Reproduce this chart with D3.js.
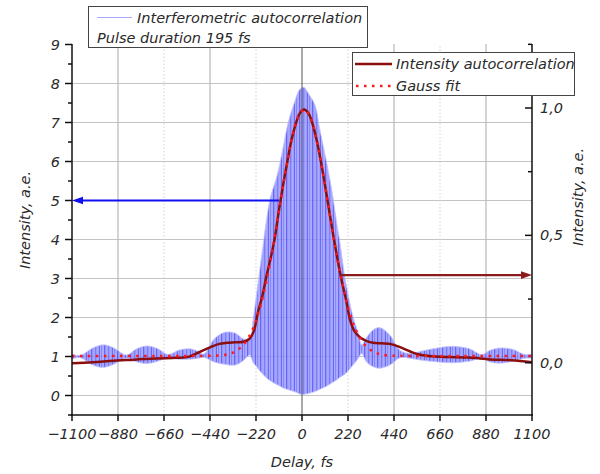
<!DOCTYPE html>
<html><head><meta charset="utf-8">
<script src="https://cdn.jsdelivr.net/npm/d3@7/dist/d3.min.js"></script>
<style>
html,body{margin:0;padding:0;background:#fff;}
text{font-family:"DejaVu Sans",sans-serif;font-style:italic;fill:#2a2a2a;}
</style></head>
<body>
<svg id="chart" width="600" height="474"></svg>
<script>
// ---------- data ----------
const xTicks = [-1100,-880,-660,-440,-220,0,220,440,660,880,1100];
const xGridMajor = [-880,-440,440,880];
const xGridMinor = [-660,-220,220,660];
const yLeftTicks = [0,1,2,3,4,5,6,7,8,9];
const yRightTicks = [0,0.5,1.0];
const yRightLabels = ["0,0","0,5","1,0"];
const yRightMinor = [0.25,0.75,1.25];

// interferometric autocorrelation envelope (left axis)
const iacDelay = [-1100,-1060,-1000,-950,-900,-840,-790,-740,-690,-640,-590,-540,-500,-470,-420,-370,-320,-280,-250,-234,-217,-200,-185,-170,-150,-121,-105,-89,-66,-37,-10,10,30,62,86,118,142,166,182,206,245,269,285,310,340,373,420,470,520,580,650,720,800,860,900,950,1010,1060,1100];
const iacUpper = [1.06,1.03,1.22,1.30,1.22,1.04,1.20,1.27,1.20,1.05,1.16,1.20,1.14,1.06,1.45,1.62,1.60,1.45,1.45,1.94,2.60,3.30,3.90,4.50,5.10,5.60,5.97,6.39,7.00,7.50,7.85,7.90,7.75,7.45,6.80,5.97,5.28,4.43,3.90,3.00,2.00,1.60,1.30,1.50,1.68,1.74,1.55,1.15,1.08,1.15,1.22,1.26,1.20,1.05,1.16,1.22,1.18,1.06,1.05];
const iacLower = [0.94,0.97,0.78,0.72,0.80,0.96,0.86,0.82,0.88,0.96,0.93,0.93,0.95,0.98,0.86,0.80,0.78,0.90,1.04,0.85,0.74,0.62,0.53,0.45,0.37,0.28,0.24,0.19,0.15,0.10,0.04,0.03,0.05,0.10,0.16,0.24,0.32,0.40,0.47,0.55,0.79,0.95,1.08,0.85,0.74,0.70,0.78,0.97,0.95,0.90,0.86,0.84,0.88,0.95,0.86,0.83,0.88,0.95,0.96];

// intensity autocorrelation (right axis)
const acDelay = [-1100,-1000,-900,-800,-700,-600,-540,-490,-440,-400,-360,-320,-280,-250,-230,-210,-190,-170,-150,-130,-110,-90,-70,-50,-30,-10,10,30,50,70,90,110,130,150,170,190,210,230,250,280,310,340,380,430,480,520,560,620,700,800,900,1000,1100];
const acValue = [-0.002,0.002,0.008,0.012,0.017,0.019,0.024,0.042,0.060,0.073,0.078,0.080,0.082,0.095,0.125,0.20,0.26,0.34,0.41,0.49,0.60,0.70,0.79,0.875,0.937,0.98,0.994,0.98,0.939,0.874,0.792,0.697,0.597,0.498,0.405,0.321,0.25,0.168,0.125,0.098,0.085,0.078,0.076,0.072,0.057,0.043,0.032,0.025,0.022,0.020,0.013,0.010,0.002];

// Gauss fit (right axis)
const gaussDelay = [-1100,-700,-450,-390,-350,-320,-290,-260,-230,-200,-170,-140,-110,-80,-50,-20,10,40,70,100,130,160,190,220,250,280,310,340,370,410,470,700,1100];
const gaussValue = [0.026,0.026,0.027,0.029,0.034,0.044,0.062,0.093,0.143,0.218,0.321,0.450,0.597,0.745,0.874,0.963,0.994,0.963,0.874,0.745,0.597,0.450,0.321,0.218,0.143,0.093,0.062,0.044,0.034,0.029,0.027,0.026,0.026];

// arrows: [fromDelay, toDelay, value]
const arrowLeft = [-110,-1100,5];      // left axis value
const arrowRight = [182,1100,0.344];   // right axis value

// ---------- drawing ----------
const svg = d3.select("#chart");
const x = d3.scaleLinear().domain([-1100,1100]).range([72,532]);
const yL = d3.scaleLinear().domain([-0.5,9]).range([415,44.5]);
const yR = d3.scaleLinear().domain([-0.2053,1.2513]).range([415,44]);

// fringe texture (style only)
const defs = svg.append("defs");
const pat = defs.append("pattern").attr("id","fringe").attr("patternUnits","userSpaceOnUse")
  .attr("width",13).attr("height",10);
pat.append("rect").attr("x",0).attr("y",0).attr("width",13).attr("height",10).attr("fill","#a4a4ff");
[[0,1.4,"#4646f6"],[2.6,0.8,"#7474fc"],[4.2,1.2,"#5252f8"],[6.6,0.7,"#8686fe"],[7.8,1.3,"#4a4af7"],[10.2,1,"#6262fa"],[11.8,0.6,"#8c8cff"]]
  .forEach(s=>pat.append("rect").attr("x",s[0]).attr("y",0).attr("width",s[1]).attr("height",10).attr("fill",s[2]));

// grid
const grid = svg.append("g");
grid.selectAll(".hg").data(yLeftTicks.filter(v=>v<9)).enter().append("line")
  .attr("x1",72).attr("x2",532).attr("y1",d=>yL(d)).attr("y2",d=>yL(d))
  .attr("stroke","#c4c4c4").attr("stroke-width",1.2);
grid.selectAll(".vg").data(xGridMajor).enter().append("line")
  .attr("x1",d=>x(d)).attr("x2",d=>x(d)).attr("y1",415).attr("y2",44)
  .attr("stroke","#b8b8b8").attr("stroke-width",1.2);
grid.selectAll(".vgm").data(xGridMinor).enter().append("line")
  .attr("x1",d=>x(d)).attr("x2",d=>x(d)).attr("y1",415).attr("y2",44)
  .attr("stroke","#d0d0d0").attr("stroke-width",1).attr("stroke-dasharray","1.5,2");

// IAC band
const iac = iacDelay.map((d,i)=>({d, u:iacUpper[i], l:iacLower[i]}));
const area = d3.area().x(p=>x(p.d)).y0(p=>yL(p.l)).y1(p=>yL(p.u)).curve(d3.curveCatmullRom.alpha(0.5));
svg.append("path").datum(iac).attr("d",area).attr("fill","url(#fringe)").attr("opacity",0.82)
  .attr("stroke","#b8b8ff").attr("stroke-width",0.8);

// zero line
svg.append("line").attr("x1",x(0)).attr("x2",x(0)).attr("y1",415).attr("y2",44)
  .attr("stroke","#555").attr("stroke-width",1);

// lines on right axis
const lineR = d3.line().x(p=>x(p.d)).y(p=>yR(p.v)).curve(d3.curveCatmullRom.alpha(0.5));
const ac = acDelay.map((d,i)=>({d, v:acValue[i]}));
const gauss = gaussDelay.map((d,i)=>({d, v:gaussValue[i]}));
svg.append("path").datum(ac).attr("d",lineR).attr("fill","none").attr("stroke","#8b0f0f").attr("stroke-width",2.5);
svg.append("path").datum(gauss).attr("d",lineR).attr("fill","none").attr("stroke","#ff1a1a")
  .attr("stroke-width",2.5).attr("stroke-dasharray","2.5,5.5");

// arrows
function arrow(x1,x2,y,color){
  const dir = Math.sign(x2-x1);
  svg.append("line").attr("x1",x1).attr("x2",x2-dir*8).attr("y1",y).attr("y2",y)
    .attr("stroke",color).attr("stroke-width",2.2);
  svg.append("path").attr("d",`M${x2},${y} L${x2-dir*11},${y-3.8} L${x2-dir*11},${y+3.8} Z`).attr("fill",color);
}
arrow(x(arrowLeft[0]),x(arrowLeft[1]),yL(arrowLeft[2]),"#1010f0");
arrow(x(arrowRight[0]),x(arrowRight[1]),yR(arrowRight[2]),"#8b1a1a");

// axes lines
const ax = svg.append("g").attr("stroke","#111").attr("stroke-width",1.5);
ax.append("line").attr("x1",72).attr("x2",72).attr("y1",44).attr("y2",415.5);
ax.append("line").attr("x1",532).attr("x2",532).attr("y1",44).attr("y2",415.5);
ax.append("line").attr("x1",71).attr("x2",533).attr("y1",415).attr("y2",415);

// left ticks
ax.selectAll(".lt").data(yLeftTicks).enter().append("line")
  .attr("x1",65).attr("x2",72).attr("y1",d=>yL(d)).attr("y2",d=>yL(d));
ax.selectAll(".ltm").data(d3.range(-0.5,9,1)).enter().append("line")
  .attr("x1",68).attr("x2",72).attr("y1",d=>yL(d)).attr("y2",d=>yL(d));
svg.selectAll(".ll").data(yLeftTicks).enter().append("text")
  .attr("x",60).attr("y",d=>yL(d)+5).attr("text-anchor","end").attr("font-size",14.5).text(d=>d);

// right ticks
ax.selectAll(".rt").data(yRightTicks).enter().append("line")
  .attr("x1",525).attr("x2",532).attr("y1",d=>yR(d)).attr("y2",d=>yR(d));
ax.selectAll(".rtm").data(yRightMinor).enter().append("line")
  .attr("x1",528).attr("x2",532).attr("y1",d=>yR(d)).attr("y2",d=>yR(d));
svg.selectAll(".rl").data(yRightTicks).enter().append("text")
  .attr("x",540).attr("y",d=>yR(d)+5).attr("font-size",14.5).text((d,i)=>yRightLabels[i]);

// x ticks
ax.selectAll(".xt").data(xTicks).enter().append("line")
  .attr("x1",d=>x(d)).attr("x2",d=>x(d)).attr("y1",415).attr("y2",421);
svg.selectAll(".xl").data(xTicks).enter().append("text")
  .attr("x",d=>x(d)).attr("y",439).attr("text-anchor","middle").attr("font-size",14.5)
  .text(d=>d<0?"\u2212"+Math.abs(d):d);

// axis titles
svg.append("text").attr("transform","translate(30,220) rotate(-90)").attr("text-anchor","middle")
  .attr("font-size",14.5).text("Intensity, a.e.");
svg.append("text").attr("transform","translate(583,197) rotate(-90)").attr("text-anchor","middle")
  .attr("font-size",14.5).text("Intensity, a.e.");
svg.append("text").attr("x",302).attr("y",467).attr("text-anchor","middle").attr("font-size",14.5).text("Delay, fs");

// legend 1
const lg1 = svg.append("g");
lg1.append("rect").attr("x",88.5).attr("y",6.5).attr("width",279).attr("height",41)
  .attr("fill","#fff").attr("stroke","#444").attr("stroke-width",1);
lg1.append("line").attr("x1",97).attr("x2",132).attr("y1",17.5).attr("y2",17.5).attr("stroke","#a8a8ff").attr("stroke-width",1);
lg1.append("text").attr("x",137).attr("y",23).attr("font-size",14.5).text("Interferometric autocorrelation");
lg1.append("text").attr("x",97).attr("y",43).attr("font-size",14.5).text("Pulse duration 195 fs");

// legend 2
const lg2 = svg.append("g");
lg2.append("rect").attr("x",352.5).attr("y",52.5).attr("width",222).attr("height",43)
  .attr("fill","#fff").attr("stroke","#444").attr("stroke-width",1);
lg2.append("line").attr("x1",355).attr("x2",392).attr("y1",64).attr("y2",64).attr("stroke","#8b0f0f").attr("stroke-width",2.5);
lg2.append("line").attr("x1",356).attr("x2",392).attr("y1",86).attr("y2",86).attr("stroke","#ff1a1a")
  .attr("stroke-width",2.5).attr("stroke-dasharray","2.5,5.5");
lg2.append("text").attr("x",396).attr("y",69).attr("font-size",14.5).text("Intensity autocorrelation");
lg2.append("text").attr("x",396).attr("y",91).attr("font-size",14.5).text("Gauss fit");
</script>
</body></html>
